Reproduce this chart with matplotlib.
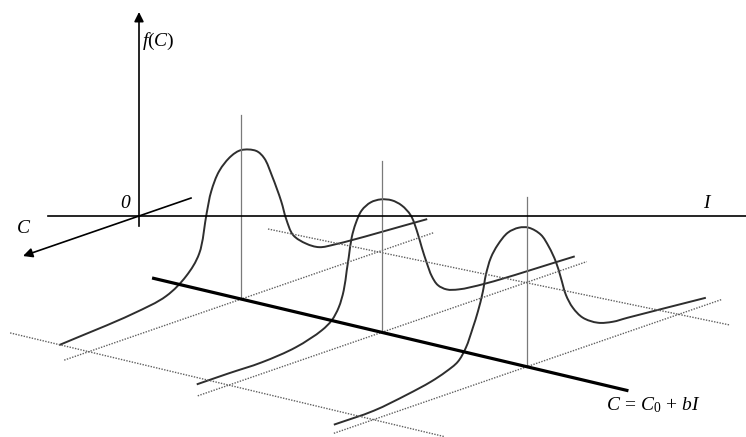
import numpy as np
import matplotlib.pyplot as plt
from matplotlib.path import Path
from matplotlib.patches import PathPatch

plt.rcParams['mathtext.fontset'] = 'custom'
plt.rcParams['mathtext.rm'] = 'Liberation Serif'
plt.rcParams['mathtext.it'] = 'Liberation Serif:italic'

# oblique view: I to the right, f up, C comes toward the viewer (down-left)
C_SLOPE = 0.345          # screen drop per unit of C
I_AXIS = (-0.91, 6.10)
C_AXIS = (-0.52, 1.16)
F_AXIS = (-0.10, 2.04)

# line C = C0 + b*I  ->  (C0, b, I start, I end)
main_line = (1.012, 0.407, 1.927, 9.96)
# dotted guides in the base plane
guide_lines = [(-0.25, 0.376, 1.667, 9.07),
               (2.53, 0.409, 2.10, 9.46)]

# the three sections, taken on the main line
station_I = [3.43, 5.80, 8.247]
vline_top = [1.84, 1.71, 1.70]
grid_span = [(1.77, -1.93), (1.84, -2.05), (1.93, -1.95)]

# f(C) profiles, u = C - C_station
u1 = [1.82, 1.09, 0.75, 0.55, 0.42, 0.345, 0.30, 0.22, 0.10, 0.0,
      -0.15, -0.23, -0.31, -0.40, -0.45, -0.52, -0.65, -0.78, -0.95, -1.86]
f1 = [0.168, 0.226, 0.289, 0.42, 0.60, 0.98, 1.18, 1.356, 1.465, 1.49,
      1.43, 1.33, 1.12, 0.84, 0.645, 0.46, 0.33, 0.25, 0.222, 0.158]
u2 = [1.85, 1.53, 1.20, 0.86, 0.60, 0.50, 0.43, 0.38, 0.35, 0.33, 0.30, 0.26,
      0.20, 0.11, 0.01, -0.10, -0.20, -0.29, -0.35, -0.40, -0.45, -0.50,
      -0.56, -0.65, -0.77, -1.04, -1.93]
f2 = [0.118, 0.118, 0.114, 0.147, 0.227, 0.293, 0.398, 0.551, 0.74, 0.864,
      1.054, 1.18, 1.289, 1.338, 1.333, 1.286, 1.20, 1.07, 0.899, 0.712,
      0.54, 0.39, 0.28, 0.205, 0.164, 0.13, 0.094]
u3 = [1.93, 1.53, 1.20, 0.96, 0.81, 0.69, 0.61, 0.54, 0.49, 0.44, 0.41, 0.36,
      0.29, 0.19, 0.08, -0.02, -0.14, -0.22, -0.29, -0.34, -0.39, -0.46,
      -0.56, -0.71, -0.86, -1.01, -1.79]
f3 = [0.086, 0.088, 0.134, 0.181, 0.229, 0.288, 0.40, 0.576, 0.719, 0.902,
      1.06, 1.214, 1.32, 1.406, 1.418, 1.383, 1.272, 1.124, 0.95, 0.773,
      0.585, 0.431, 0.297, 0.195, 0.153, 0.142, 0.072]
profiles = [(u1, f1), (u2, f2), (u3, f3)]


def proj(I, C, f=0.0):
    I, C, f = np.asarray(I, float), np.asarray(C, float), np.asarray(f, float)
    return I - C, f - C_SLOPE * C


def smooth_path(x, y):
    # centripetal Catmull-Rom through the read points, as cubic Beziers
    p = np.column_stack([x, y])
    p = np.vstack([2 * p[0] - p[1], p, 2 * p[-1] - p[-2]])
    verts, codes = [p[1]], [Path.MOVETO]
    for i in range(1, len(p) - 2):
        p0, p1, p2, p3 = p[i - 1], p[i], p[i + 1], p[i + 2]
        d1 = np.hypot(*(p1 - p0)) ** 0.5
        d2 = np.hypot(*(p2 - p1)) ** 0.5
        d3 = np.hypot(*(p3 - p2)) ** 0.5
        b1 = (d1**2 * p2 - d2**2 * p0 + (2*d1**2 + 3*d1*d2 + d2**2) * p1) / (3*d1*(d1 + d2))
        b2 = (d3**2 * p1 - d2**2 * p3 + (2*d3**2 + 3*d3*d2 + d2**2) * p2) / (3*d3*(d3 + d2))
        verts += [b1, b2, p2]
        codes += [Path.CURVE4] * 3
    return Path(verts, codes)


fig = plt.figure(figsize=(7.46, 4.37), dpi=100)
ax = fig.add_axes([0, 0, 1, 1])
ax.set_xlim(-1.39, 6.07)
ax.set_ylim(-2.21, 2.16)
ax.axis('off')

dot = dict(color='#606060', lw=1.0, ls=(0, (1, 1)))

# guide lines and C-direction grid lines (dotted)
for c0, b, ia, ib in guide_lines:
    I = np.array([ia, ib])
    ax.plot(*proj(I, c0 + b * I), **dot)

c0, b, ia, ib = main_line
station_C = [c0 + b * i for i in station_I]
for I, C, (ua, ub) in zip(station_I, station_C, grid_span):
    ax.plot(*proj([I, I], [C + ua, C + ub]), **dot)

# verticals at each section
for I, C, top in zip(station_I, station_C, vline_top):
    ax.plot(*proj([I, I], [C, C], [0, top]), color='#7a7a7a', lw=0.9)

# main line C = C0 + bI
I = np.array([ia, ib])
ax.plot(*proj(I, c0 + b * I), color='black', lw=2.3, solid_capstyle='butt')

# distributions
for I, C, (u, f) in zip(station_I, station_C, profiles):
    x, y = proj(np.full(len(u), I), C + np.array(u), f)
    ax.add_patch(PathPatch(smooth_path(x, y), fill=False, ec='#2e2e2e', lw=1.4))

# axes
ax.plot(*proj(I_AXIS, [0, 0]), color='black', lw=1.2)
ax.plot(*proj([0, 0], [0, 0], [F_AXIS[0], 0]), color='black', lw=1.2)
arrow = dict(arrowstyle='-|>', color='black', lw=1.2, mutation_scale=14,
             shrinkA=0, shrinkB=0)
ax.annotate('', xy=proj(0, 0, F_AXIS[1]), xytext=proj(0, 0, 0), arrowprops=arrow)
ax.plot(*proj([0, 0], [0, C_AXIS[0]]), color='black', lw=1.2)
ax.annotate('', xy=proj(0, C_AXIS[1]), xytext=proj(0, 0), arrowprops=arrow)

serif = dict(family='Liberation Serif', style='italic', fontsize=14)
ax.text(0.03, 1.75, r'$f(C)$', ha='left', va='center', fontsize=14)
ax.text(-0.14, 0.13, '0', ha='center', va='center', **serif)
ax.text(-1.16, -0.12, 'C', ha='center', va='center', **serif)
ax.text(5.67, 0.13, 'I', ha='center', va='center', **serif)
ax.text(4.67, -1.89, r'$C\,=\,C_0\,+\,bI$', ha='left', va='center', fontsize=14)

fig.savefig('out.png', dpi=100)
